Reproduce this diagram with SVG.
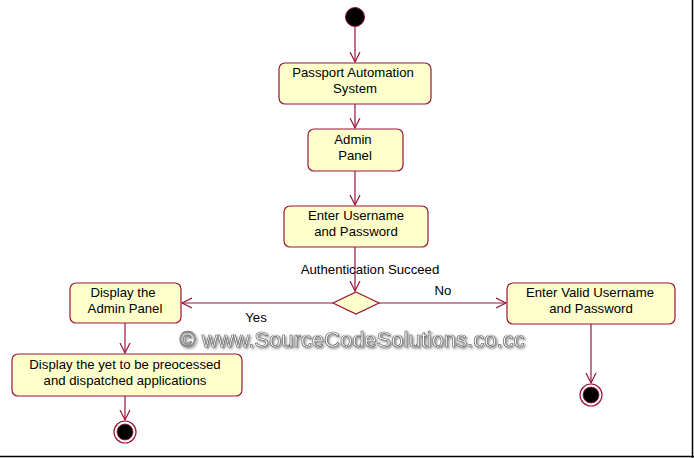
<svg xmlns="http://www.w3.org/2000/svg" width="694" height="458" viewBox="0 0 694 458">
<style>
.box{fill:#ffffcc;stroke:#99143a;stroke-width:1.2}
.t{font-family:"Liberation Sans",Arial,sans-serif;font-size:13.2px;fill:#000;text-anchor:middle}
.c{stroke:#99143a;stroke-width:1.2;fill:none}
.wm{font-family:"Liberation Sans",Arial,sans-serif;font-size:22px;text-anchor:middle}
</style>
<defs>
<marker id="a" markerWidth="12" markerHeight="12" refX="10" refY="6" orient="auto" markerUnits="userSpaceOnUse">
<path d="M0,1 L10,6 L0,11" fill="none" stroke="#99143a" stroke-width="1.2"/>
</marker>
<filter id="sh" x="-5%" y="-30%" width="110%" height="160%">
<feDropShadow dx="1.5" dy="1.5" stdDeviation="0.8" flood-color="#777" flood-opacity="0.9"/>
</filter>
</defs>
<rect x="0" y="0" width="694" height="458" fill="#fff"/>
<line x1="692.5" y1="0" x2="692.5" y2="458" stroke="#000" stroke-width="1.5"/>
<line x1="0" y1="456.5" x2="694" y2="456.5" stroke="#000" stroke-width="1.5"/>
<g id="connectors">
<line class="c" x1="355" y1="27" x2="355" y2="62" marker-end="url(#a)"/>
<line class="c" x1="355" y1="104" x2="355" y2="128" marker-end="url(#a)"/>
<line class="c" x1="355" y1="171" x2="355" y2="205" marker-end="url(#a)"/>
<line class="c" x1="355" y1="247" x2="355" y2="291" marker-end="url(#a)"/>
<line class="c" x1="333" y1="303" x2="182" y2="303" marker-end="url(#a)"/>
<line class="c" x1="379" y1="303" x2="506" y2="303" marker-end="url(#a)"/>
<line class="c" x1="125" y1="323" x2="125" y2="353" marker-end="url(#a)"/>
<line class="c" x1="125" y1="396" x2="125" y2="420" marker-end="url(#a)"/>
<line class="c" x1="591" y1="324" x2="591" y2="383" marker-end="url(#a)"/>
<text class="t" x="370" y="274">Authentication Succeed</text>
<text class="t" x="443" y="295">No</text>
<text class="t" x="256" y="322">Yes</text>
</g>
<g id="start"><circle cx="355" cy="17" r="9.5" fill="#000" stroke="#99143a" stroke-width="1"/></g>
<g id="n1"><rect class="box" x="279" y="63" width="152" height="41" rx="6"/><text class="t" x="353" y="77">Passport Automation</text><text class="t" x="355" y="93">System</text></g>
<g id="n2"><rect class="box" x="308" y="129" width="95" height="42" rx="6"/><text class="t" x="353" y="144">Admin</text><text class="t" x="355" y="160">Panel</text></g>
<g id="n3"><rect class="box" x="284" y="206" width="144" height="41" rx="6"/><text class="t" x="356" y="220">Enter Username</text><text class="t" x="356" y="236">and Password</text></g>
<g id="decision"><polygon points="356,292 379,303 356,314 333,303" fill="#ffffcc" stroke="#99143a" stroke-width="1.2"/></g>
<g id="n4"><rect class="box" x="70" y="283" width="111" height="40" rx="6"/><text class="t" x="123" y="297">Display the</text><text class="t" x="125" y="313">Admin Panel</text></g>
<g id="n5"><rect class="box" x="507" y="283" width="168" height="41" rx="6"/><text class="t" x="590" y="297">Enter Valid Username</text><text class="t" x="591" y="313">and Password</text></g>
<g id="n6"><rect class="box" x="12" y="354" width="230" height="42" rx="6"/><text class="t" x="125" y="369">Display the yet to be preocessed</text><text class="t" x="125" y="385">and dispatched applications</text></g>
<g id="end1"><circle cx="125" cy="432" r="11" fill="#fff" stroke="#99143a" stroke-width="1.2"/><circle cx="125" cy="432" r="8" fill="#000" stroke="#99143a" stroke-width="0.8"/></g>
<g id="end2"><circle cx="591" cy="395" r="11" fill="#fff" stroke="#99143a" stroke-width="1.2"/><circle cx="591" cy="395" r="8" fill="#000" stroke="#99143a" stroke-width="0.8"/></g>
<g id="watermark">
<text class="wm" x="352" y="347" fill="#fff" stroke="#666" stroke-width="0.7" filter="url(#sh)">© www.SourceCodeSolutions.co.cc</text>
</g>
</svg>
